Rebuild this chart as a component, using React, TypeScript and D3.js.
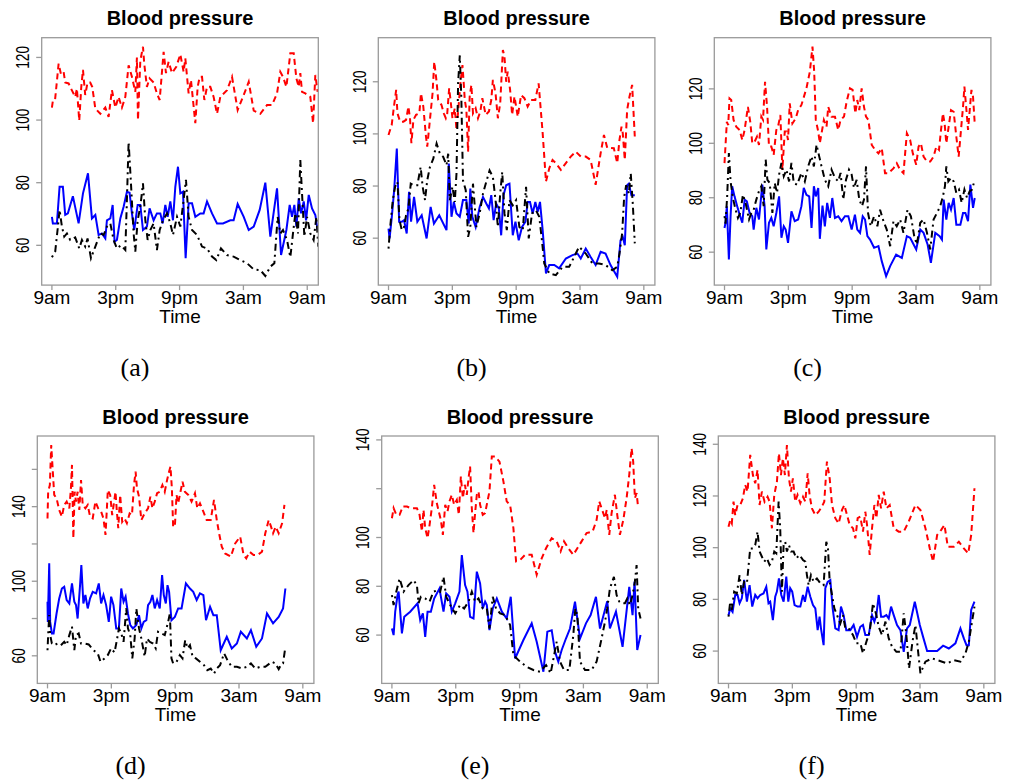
import React, { useEffect, useRef } from 'react';
import * as d3 from 'd3';

// hours since 9am
const hourTicks = [0, 6, 12, 18, 24];
const hourLabels = ['9am', '3pm', '9pm', '3am', '9am'];
const xLimits = [-0.96, 25.04];

// ---- panel (a) ----
const sysA = [[0,104],[0.1,106.4],[0.3,106.6],[0.63,118],[0.85,114.7],[1.1,115.4],[1.25,112],[1.57,111.7],[1.88,109.5],[2.19,107.4],[2.35,110],[2.57,99.8],[2.76,110.6],[2.92,116],[3.13,108],[3.35,112],[3.6,112],[3.79,110.6],[4.08,103.7],[4.55,102],[5.02,104],[5.33,101],[5.64,109.6],[5.96,104],[6.27,107.4],[6.58,104],[6.9,107.4],[7.21,117.5],[7.52,113.8],[7.84,109],[7.99,120],[8.09,100],[8.31,119],[8.56,123.4],[8.68,118],[8.93,110.6],[9.18,113.3],[9.56,112],[9.87,108.5],[10.13,106.4],[10.5,121.8],[10.72,115],[10.97,118.6],[11.29,115],[11.69,117],[12.07,121],[12.38,115.4],[12.54,119.7],[12.85,108.5],[13.07,112.8],[13.48,99],[13.7,110.6],[13.89,113.8],[14.11,113.8],[14.33,106.4],[14.58,110.6],[14.89,110.6],[15.2,107.4],[15.52,102],[15.83,107.4],[16.46,109.5],[16.93,113.8],[17.46,103.2],[18.03,108],[18.5,112.2],[18.97,103],[19.59,102],[20.22,104.8],[20.69,104.8],[21.16,108.5],[21.47,115.4],[21.72,113.8],[22.04,110.6],[22.41,121.3],[22.73,121.3],[22.98,113.3],[23.2,110.6],[23.35,115],[23.51,109],[23.82,108.5],[24.29,107.4],[24.55,99],[24.76,114.4],[24.98,109]];
const diaA = [[0,69.1],[0.09,67],[0.47,67],[0.72,78.7],[1.03,78.7],[1.25,69.7],[1.5,70.2],[1.97,75.7],[2.51,67],[2.92,76.6],[3.39,83],[3.76,68.6],[4.08,69.7],[4.39,63.3],[4.7,63.8],[5.02,62.2],[5.17,68],[5.49,68.6],[5.71,72.9],[5.89,61.2],[6.11,61.7],[6.43,68.6],[6.74,72.3],[7.05,77.1],[7.3,76.8],[7.52,70.2],[7.74,64.9],[8.06,72.9],[8.31,72.9],[8.56,64.9],[8.93,66],[9.18,71.8],[9.56,68],[9.87,70.2],[10.19,70.2],[10.41,67],[10.66,72.9],[10.88,69.1],[11.13,74],[11.38,68],[11.6,78.7],[11.85,85.1],[12.07,76.6],[12.32,77.1],[12.57,55.9],[12.85,73.4],[13.17,73.4],[13.48,69.1],[13.95,70.2],[14.26,70.2],[14.58,74],[15.05,70.2],[15.52,67],[16.08,67],[16.77,68],[17.08,68],[17.46,73.2],[18.03,69.1],[18.5,64.9],[18.97,66],[19.53,71.3],[20.06,80],[20.53,62.8],[21.16,78.2],[21.54,56.9],[22.04,64.9],[22.35,72.9],[22.57,69.1],[22.79,72.9],[22.98,66],[23.2,75],[23.42,70.2],[23.67,74],[23.89,68],[24.14,76.1],[24.45,71.8],[24.76,69.7],[24.98,64.9]];
const hrA = [[0,56.2],[0.31,58],[0.53,64.9],[0.72,71.3],[0.94,66],[1.16,62.8],[1.41,63.8],[1.72,61.7],[2.19,62.5],[2.57,59],[2.82,61.7],[3.13,59.6],[3.35,62.2],[3.67,55.9],[4.08,59.6],[4.55,63.8],[4.86,63.3],[5.17,66],[5.49,67],[5.8,61.7],[6.11,59],[6.49,60],[6.9,58.5],[7.05,74.5],[7.21,93],[7.43,79.8],[7.68,63.8],[7.84,58],[8.06,68],[8.31,72.3],[8.56,79.8],[8.78,68],[9.0,61.7],[9.25,64.9],[9.56,67],[9.87,58.5],[10.13,64.9],[10.44,68],[10.82,70.2],[11.13,67],[11.38,63.3],[11.76,69.1],[12.07,66],[12.38,74.5],[12.6,80.9],[12.85,69.1],[13.17,64.9],[13.64,63.3],[14.11,59.6],[14.58,59],[15.05,56.4],[15.45,55.3],[15.89,59],[16.46,56.9],[17.08,56.4],[17.71,55.3],[18.34,54.3],[18.97,52.3],[19.59,52.1],[20.06,50.2],[20.53,53.2],[20.91,54.3],[21.22,69.1],[21.47,63.8],[21.72,64.9],[22.1,61.7],[22.41,56.2],[22.66,63.8],[22.88,70.2],[23.13,63.8],[23.35,87.2],[23.51,76.6],[23.73,62.8],[23.98,69.1],[24.29,63.8],[24.6,61.7],[24.86,69.1],[25.04,59.6]];

// ---- panel (b) ----
const sysB = [[0,99.6],[0.1,100.9],[0.3,103.4],[0.47,109.2],[0.72,116.9],[0.84,107.9],[1.09,104.7],[1.4,104.7],[1.65,105.4],[1.87,110.5],[2.02,106],[2.15,96.4],[2.34,105.4],[2.59,107.3],[2.9,107.9],[3.05,115.6],[3.27,110.5],[3.52,99],[3.64,95.1],[3.83,102.8],[4.14,115.6],[4.3,127.7],[4.52,120],[4.67,113],[4.98,111.1],[5.2,107.9],[5.39,106],[5.51,107.3],[5.7,117.5],[5.83,113],[6.01,106],[6.23,109.8],[6.39,101.5],[6.57,109.8],[6.76,119.4],[6.95,126.4],[7.07,119.4],[7.17,113],[7.32,109.2],[7.48,93.2],[7.63,114.3],[7.79,118.8],[7.94,107.9],[8.19,109.8],[8.41,106],[8.63,108.6],[8.82,113.7],[9.13,107.3],[9.44,108.6],[9.66,113],[9.81,120.7],[10.06,115.6],[10.28,106],[10.5,111.7],[10.75,132.2],[10.9,129.6],[11.06,120],[11.21,123.9],[11.43,116.9],[11.62,107.3],[11.84,114.3],[12.15,106.6],[12.46,114.9],[12.77,113.7],[13.08,110.5],[13.4,113],[13.8,113],[14.11,119.4],[14.49,100.3],[14.8,81.7],[15.11,86.8],[15.42,90],[15.73,88.8],[16.2,86.2],[16.67,88.8],[17.13,91.3],[17.6,93.2],[18.07,91.3],[18.54,91.3],[19.0,90],[19.47,80.5],[19.94,92.6],[20.25,99.6],[20.56,94.6],[20.87,94.6],[21.18,94.5],[21.5,88.8],[21.71,97.7],[21.9,102.8],[22.02,100.3],[22.21,90],[22.43,109.2],[22.65,114.3],[22.9,118.8],[23.15,99]];
const diaB = [[0,63.7],[0.1,59.9],[0.31,68.2],[0.53,78.4],[0.78,94.4],[1.0,66.3],[1.25,66.3],[1.46,66.9],[1.71,61.8],[1.93,77.8],[2.12,66.3],[2.4,75.8],[2.71,66.3],[3.12,68.8],[3.58,59.9],[3.96,72],[4.27,65.6],[4.77,68.8],[5.45,63.1],[5.67,88.6],[5.92,68.2],[6.14,73.9],[6.39,69.5],[6.7,68.2],[7.0,74.6],[7.32,74.6],[7.54,65.6],[7.69,79],[7.88,68.2],[8.19,64.3],[8.57,72],[8.88,75.8],[9.19,73.3],[9.44,71.4],[9.66,76.5],[9.88,66.9],[10.12,73.3],[10.37,71.4],[10.59,61.1],[10.81,76.5],[11.06,80.3],[11.37,80.9],[11.68,61.1],[11.93,66.3],[12.24,59.2],[12.55,64.3],[12.87,66.3],[13.08,73.9],[13.3,73.9],[13.55,69.5],[13.8,73.9],[14.02,70.1],[14.24,73.9],[14.49,63.1],[14.8,46.5],[15.11,49.7],[15.58,49.7],[16.04,48.4],[16.67,52.2],[17.29,53.5],[17.76,54.1],[18.07,52.2],[18.54,56],[19.0,52.8],[19.47,49.7],[19.94,54.8],[20.4,54.1],[20.87,49.7],[21.5,45.2],[21.81,59.2],[22.02,60.5],[22.21,57.3],[22.43,80.3],[22.59,80.9],[22.83,76.5],[23.15,76.5]];
const hrB = [[0,56],[0.16,64.3],[0.4,74.6],[0.62,79.7],[0.84,81.6],[1.03,66.9],[1.25,63.1],[1.46,64.3],[1.65,68.8],[1.87,71.4],[2.09,80.9],[2.34,80.3],[2.71,80.3],[3.02,87.3],[3.21,79.7],[3.43,74.6],[3.64,82.2],[3.89,87.3],[4.21,90.5],[4.52,96.3],[4.83,92.4],[5.14,91.2],[5.45,88],[5.61,92.4],[5.76,74.6],[6.01,79.7],[6.23,73.9],[6.39,84.8],[6.54,119.3],[6.7,130.1],[6.85,113],[7.0,82.2],[7.26,78.4],[7.48,60.5],[7.69,64.3],[7.94,80.9],[8.26,64.3],[8.57,69.5],[8.88,77.1],[9.19,81.6],[9.5,86],[9.81,83.5],[10.06,74.6],[10.28,64.3],[10.5,77.1],[10.69,85.4],[10.9,69.5],[11.12,63.1],[11.37,74.6],[11.68,72.6],[11.99,74.6],[12.3,64.3],[12.62,63.1],[12.93,79.7],[13.18,59.9],[13.49,69.5],[13.86,70.7],[14.17,68.2],[14.42,59.2],[14.64,50.3],[15.11,46.5],[15.73,45.8],[16.36,49],[16.98,49],[17.45,52.8],[17.91,56.7],[18.54,54.1],[19.16,50.3],[19.78,50.3],[20.4,49.7],[21.03,47.7],[21.5,49],[21.71,54.1],[21.96,61.8],[22.15,75.8],[22.34,80.3],[22.59,77.1],[22.77,84.8],[22.96,73.3],[23.15,58]];

// ---- panel (c) ----
const sysC = [[0,92.7],[0.06,96.9],[0.22,107.9],[0.35,106.7],[0.47,116.5],[0.63,115.9],[0.85,108.6],[1.1,106.1],[1.42,104.9],[1.67,101.2],[1.89,104.9],[2.2,113.4],[2.42,107.9],[2.61,100],[2.83,100.6],[3.05,102.4],[3.24,99.4],[3.46,109.8],[3.62,108.6],[3.81,122.6],[4.0,113.4],[4.18,98.8],[4.4,98.8],[4.62,95.7],[4.87,104.9],[5.03,106.1],[5.25,110.4],[5.44,90.2],[5.66,104.3],[5.82,104.3],[5.97,101.2],[6.13,114.7],[6.38,107.3],[6.7,109.2],[6.92,112.2],[7.23,114.1],[7.7,120.2],[8.02,126.3],[8.27,135.5],[8.43,126.3],[8.58,108.6],[8.81,104.3],[8.96,100],[9.15,104.3],[9.34,108.6],[9.59,106.1],[9.75,113.4],[10.06,109.8],[10.38,109.8],[10.69,104.9],[10.91,108.6],[11.23,109.8],[11.48,115.3],[11.79,120.2],[12.04,119.6],[12.3,111],[12.48,115.9],[12.67,112.2],[12.89,120.2],[13.11,113.4],[13.3,109.8],[13.52,108.6],[13.84,99.4],[14.15,97.6],[14.47,96.3],[14.78,98.2],[15.09,89],[15.41,89],[15.88,90.8],[16.19,92.7],[16.51,90.2],[16.82,89],[17.14,103.7],[17.45,101.2],[17.7,96.3],[18.02,92.1],[18.24,98.8],[18.46,100],[18.71,95.1],[19.03,93.3],[19.34,93.3],[19.65,95.1],[19.91,98.8],[20.16,97.6],[20.35,104.9],[20.53,111],[20.69,107.3],[20.85,100],[21.07,106.1],[21.29,112.2],[21.54,111.6],[21.79,102.4],[22.01,95.1],[22.23,104.9],[22.42,113.4],[22.55,120.8],[22.74,112.2],[22.89,104.9],[23.05,112.2],[23.21,119.6],[23.36,117.1],[23.52,107.3]];
const diaC = [[0,68.9],[0.09,70.8],[0.22,76.9],[0.41,57.3],[0.57,73.2],[0.72,84.2],[0.94,80.5],[1.19,76.9],[1.42,73.8],[1.67,70.8],[1.89,79.3],[2.1,78.7],[2.36,74.4],[2.61,73.2],[2.74,68.3],[2.99,76.3],[3.24,72],[3.55,84.8],[3.77,76.9],[3.93,61],[4.18,70.8],[4.4,72.6],[4.62,69.5],[4.87,74.4],[5.13,80.5],[5.35,65.3],[5.57,69.5],[5.75,68.3],[5.97,63.4],[6.29,75],[6.6,71.4],[6.92,72],[7.23,76.9],[7.45,83.6],[7.7,81.1],[7.96,80.5],[8.18,68.9],[8.4,84.2],[8.58,80.5],[8.81,83.6],[8.96,64.9],[9.21,77.1],[9.43,69.5],[9.65,78.1],[9.91,72.6],[10.13,79.9],[10.38,72.6],[10.69,73.2],[11.0,71.4],[11.32,73.2],[11.64,73.2],[11.95,68.3],[12.26,73.8],[12.48,68.3],[12.74,67.1],[12.99,73.2],[13.21,72],[13.43,65.9],[13.68,64.6],[14.06,61.6],[14.47,62.2],[14.78,56.7],[15.19,51.2],[15.57,54.9],[16.13,59.1],[16.67,57.9],[17.14,65.9],[17.45,65.3],[18.02,61],[18.4,68.3],[18.71,67.1],[19.09,62.8],[19.4,56.1],[19.81,67.1],[20.22,65.9],[20.44,64.6],[20.6,79.3],[20.85,72],[21.07,78.1],[21.29,75.6],[21.54,79.9],[21.79,70.1],[22.17,70.1],[22.42,74.4],[22.64,74.4],[22.89,71.4],[23.11,84.8],[23.36,76.3],[23.52,79.9]];
const hrC = [[0,73.2],[0.09,70.5],[0.25,80.5],[0.41,96.4],[0.57,86],[0.79,79.9],[1.04,75.6],[1.26,72.6],[1.48,74.4],[1.73,81.1],[1.98,78.1],[2.3,72],[2.52,74.4],[2.74,75.6],[2.99,79.3],[3.24,82.4],[3.46,84.2],[3.68,76.9],[3.87,94],[4.03,86.6],[4.25,85.4],[4.5,74.4],[4.72,85.4],[4.94,81.8],[5.13,88.5],[5.35,92.8],[5.57,87.9],[5.82,90.3],[6.07,86],[6.29,92.8],[6.51,85.4],[6.82,84.8],[7.23,89.1],[7.55,86],[7.86,91.5],[8.18,95.2],[8.4,91.5],[8.65,99.5],[8.9,95.2],[9.12,91.5],[9.43,86.6],[9.75,84.2],[10.06,90.3],[10.38,87.3],[10.69,86],[10.91,89.1],[11.16,79.3],[11.42,86.6],[11.7,90.3],[11.95,88.5],[12.17,83.6],[12.42,86.6],[12.67,79.3],[12.92,76.9],[13.11,79.3],[13.3,91.5],[13.49,74.4],[13.74,69.5],[14.06,73.2],[14.37,69.5],[14.62,75.6],[14.94,71.4],[15.25,68.3],[15.57,62.2],[15.88,71.4],[16.19,69.5],[16.51,72],[16.82,67.1],[17.2,75.6],[17.52,73.2],[17.83,65.9],[18.08,62.8],[18.4,70.8],[18.71,72],[19.03,67.1],[19.34,61],[19.65,72],[19.97,74.4],[20.28,76.9],[20.53,80.5],[20.72,84.2],[20.85,91.5],[21.04,86],[21.29,87.3],[21.54,86],[21.79,81.8],[22.04,83],[22.29,78.1],[22.55,83],[22.8,79.9],[23.05,82.4],[23.27,83],[23.52,86.6]];

// ---- panel (d) ----
const sysD = [[0,133.7],[0.06,148],[0.22,151.6],[0.35,173.1],[0.47,161.5],[0.63,146.3],[0.85,144.5],[1.1,138.2],[1.35,134.6],[1.57,140.9],[1.8,142.7],[2.05,139.1],[2.2,149.8],[2.3,162.4],[2.43,123],[2.55,148],[2.68,142.7],[2.83,148],[2.99,138.2],[3.15,154.3],[3.31,140.9],[3.56,139.1],[3.78,140.9],[4.0,134.6],[4.25,133.7],[4.5,142.7],[4.76,139.1],[5.04,137.3],[5.26,133.7],[5.45,124.8],[5.67,148.9],[5.89,146.3],[6.08,135.5],[6.24,141.8],[6.39,148],[6.52,137.3],[6.65,128.4],[6.83,146.3],[7.02,131.9],[7.24,133.7],[7.46,131.1],[7.72,136.4],[7.94,135.5],[8.13,151.6],[8.28,158.8],[8.41,149.8],[8.6,145.4],[8.82,132.8],[9.13,136.4],[9.45,139.1],[9.67,145.4],[9.86,139.1],[10.08,142.7],[10.3,147.2],[10.55,148],[10.8,151.6],[11.02,148],[11.24,154.3],[11.43,158.8],[11.56,161.5],[11.69,149.8],[11.81,129.3],[11.97,129.3],[12.13,146.3],[12.28,141.8],[12.5,148],[12.69,153.4],[12.91,148],[13.23,146.3],[13.54,142.7],[13.86,147.2],[14.08,139.1],[14.33,141.8],[14.65,137.3],[14.96,132.8],[15.34,132.8],[15.65,143.6],[15.91,132.8],[16.16,124.8],[16.38,118.5],[16.69,114.9],[17.23,113.2],[17.64,120.3],[18.11,123.9],[18.43,114.1],[18.68,112.3],[18.99,115.8],[19.37,114.1],[19.75,114.1],[20.16,115.8],[20.47,125.7],[20.79,132.8],[21.01,129.3],[21.2,125.7],[21.45,129.3],[21.73,125.7],[22.05,131.1],[22.27,140.9]];
const diaD = [[0,89],[0.03,78.2],[0.16,109.6],[0.25,78.2],[0.41,72],[0.57,72],[0.85,82.7],[1.1,90.8],[1.35,96.1],[1.57,97],[1.8,89.9],[2.05,88.1],[2.3,98.8],[2.52,89],[2.68,87.2],[2.83,80],[3.06,97.9],[3.18,108.7],[3.37,88.1],[3.56,92.6],[3.78,85.4],[4.0,90.8],[4.25,94.3],[4.57,93.5],[4.82,98.8],[5.04,88.1],[5.26,92.6],[5.51,87.2],[5.76,78.2],[5.98,91.7],[6.2,87.2],[6.46,74.7],[6.71,74.7],[6.93,96.1],[7.15,89],[7.34,91.7],[7.56,82.7],[7.78,76.5],[8.03,74.7],[8.35,76.5],[8.6,81.8],[8.82,74.7],[9.04,78.2],[9.29,79.1],[9.45,87.2],[9.67,89],[9.86,92.6],[10.08,85.4],[10.3,89.9],[10.55,85.4],[10.77,103.3],[10.93,92.6],[11.12,88.1],[11.28,97.9],[11.43,94.3],[11.65,79.1],[11.97,80.9],[12.28,85.4],[12.6,85.4],[13.01,98.8],[13.39,96.1],[13.7,94.3],[14.02,89.9],[14.33,93.5],[14.65,92.6],[14.9,79.1],[15.28,86.3],[15.59,81.8],[15.91,81.8],[16.28,63],[16.85,70.2],[17.32,63.9],[17.8,66.6],[18.17,72.9],[18.74,69.3],[19.12,73.8],[19.62,64.8],[20.16,69.3],[20.63,82.7],[21.2,77.4],[21.73,80.9],[22.14,85.4],[22.36,96.1]];
const hrD = [[0,63],[0.06,71.1],[0.16,81.8],[0.25,71.1],[0.41,66.6],[0.63,65.7],[0.94,66.6],[1.26,65.7],[1.57,67.5],[1.8,65.7],[2.05,71.1],[2.3,75.6],[2.52,63],[2.68,71.1],[2.93,72],[3.15,66.6],[3.46,66.6],[3.87,66.1],[4.31,63],[4.72,61.3],[4.98,56.8],[5.35,58.6],[5.67,60.4],[5.98,64],[6.3,61.8],[6.52,68.4],[6.71,74.7],[6.93,72],[7.15,67.5],[7.4,85.4],[7.56,74.7],[7.78,71.1],[7.97,58.6],[8.19,69.3],[8.35,85.4],[8.6,74.7],[8.82,69.3],[9.13,59.5],[9.35,69.3],[9.61,67.5],[9.92,66.6],[10.17,64],[10.39,72.9],[10.71,72],[11.02,71.1],[11.34,78.2],[11.5,82.7],[11.65,58.6],[11.81,55.9],[12.13,56.8],[12.44,60.4],[12.69,58.6],[12.94,68.4],[13.17,64],[13.39,65.7],[13.64,59.5],[13.95,58.6],[14.33,56.8],[14.71,55],[15.02,52.3],[15.34,53.2],[15.65,50.5],[15.91,53.2],[16.22,55],[16.6,61.3],[16.91,57.7],[17.32,54.1],[17.8,54.1],[18.27,53.2],[18.74,54.1],[19.12,55.9],[19.53,53.2],[20.0,54.1],[20.47,54.1],[21.1,56.8],[21.42,55.9],[21.73,52.8],[21.95,55.3],[22.14,55.9],[22.36,64.8]];

// ---- panel (e) ----
const sysE = [[0,107.9],[0.16,112],[0.41,109.3],[0.72,109.3],[1.03,112.7],[1.41,112.7],[1.78,112],[2.35,112],[2.6,109.3],[2.82,102.5],[2.97,111.3],[3.13,103.8],[3.35,99.7],[3.54,105.2],[3.75,112],[3.97,121.6],[4.22,114.1],[4.44,110],[4.6,107.2],[4.79,101.1],[5.01,113.4],[5.23,110.7],[5.41,114.8],[5.63,117.5],[5.85,113.4],[6.1,115.4],[6.29,109.3],[6.48,125],[6.67,116.1],[6.85,121.6],[7.04,117.5],[7.2,124.3],[7.35,129.1],[7.51,112],[7.67,101.8],[7.82,110],[7.98,117.5],[8.14,118.9],[8.29,113.4],[8.54,109.3],[8.76,110],[9.17,118.9],[9.39,133.2],[9.7,133.2],[10.11,131.1],[10.48,123],[10.79,114.8],[11.11,113.4],[11.42,103.8],[11.67,90.2],[12.05,90.8],[12.52,92.9],[13.14,92.9],[13.61,84.7],[14.08,91.5],[14.49,95.6],[15.02,99.7],[15.49,98.4],[15.86,94.3],[16.18,98.4],[16.58,95.6],[17.05,92.9],[17.43,95.6],[17.83,98.4],[18.3,101.8],[18.87,102.5],[19.24,107.2],[19.49,114.8],[19.71,112],[20.03,107.9],[20.19,111.3],[20.43,101.1],[20.65,110],[20.96,117.5],[21.18,109.3],[21.43,101.1],[21.75,107.2],[22.06,116.1],[22.31,125.7],[22.53,136.6],[22.68,131.1],[22.84,116.1],[23.0,118.2],[23.15,112]];
const diaE = [[0,62.7],[0.16,60],[0.31,69.6],[0.53,76.4],[0.63,77.8],[0.94,60.7],[1.16,67.5],[1.72,69.6],[2.41,73],[2.66,66.1],[2.91,68.9],[3.13,59.3],[3.35,69.6],[3.66,69.6],[3.97,75],[4.47,79.1],[4.85,69.6],[5.1,77.1],[5.41,75.7],[5.63,69.6],[5.95,73],[6.35,77.8],[6.57,92.8],[6.88,80.5],[7.1,77.8],[7.35,67.5],[7.67,66.8],[7.98,86],[8.29,81.2],[8.54,70.9],[8.76,73.7],[8.92,72.3],[9.17,62],[9.48,70.9],[9.86,75],[10.33,69.6],[10.79,66.8],[11.17,75.7],[11.58,50.4],[12.36,58],[13.14,64.8],[13.61,57.3],[14.24,45],[14.61,61.4],[15.02,62],[15.33,53.2],[15.64,49.1],[15.96,53.9],[16.36,58.6],[16.74,62.7],[17.21,73.7],[17.68,58.6],[18.24,64.8],[18.68,68.2],[19.18,75.7],[19.56,62.7],[19.81,66.8],[20.24,73.9],[20.49,62.7],[21.06,69.6],[21.68,55.2],[22.31,79.8],[22.62,68.2],[22.81,81.9],[23.06,53.9],[23.37,60]];
const hrE = [[0,76.4],[0.16,72.3],[0.41,77.8],[0.72,83.2],[1.1,77.8],[1.56,80.5],[2.03,82.5],[2.35,80.5],[2.5,73],[2.72,75.7],[3.13,75],[3.54,73.7],[3.91,77.8],[4.29,78.4],[4.54,77.8],[4.85,83.9],[5.1,75.7],[5.48,72.3],[5.95,68.9],[6.41,72.3],[6.79,70.9],[7.2,73.7],[7.51,77.8],[7.82,73.7],[8.14,75],[8.54,70.9],[8.92,70.9],[9.17,62.7],[9.48,75.7],[9.79,70.9],[10.17,68.9],[10.64,68.2],[11.11,64.1],[11.42,51.8],[12.05,49.1],[12.67,47],[13.3,45.7],[13.92,45],[14.49,47.7],[14.92,44.3],[15.49,57.3],[15.8,49.1],[16.18,45.7],[16.68,45.7],[17.05,60],[17.24,70.9],[17.43,68.2],[17.68,49.1],[18.15,45.7],[18.77,45.7],[19.24,49.1],[19.71,58.6],[20.03,65.5],[20.24,70.9],[20.49,79.1],[20.87,83.9],[21.12,76.4],[21.37,73.7],[21.59,73],[21.9,73],[22.12,75],[22.37,72.3],[22.62,76.4],[22.84,81.9],[23.0,88.7],[23.15,70.9],[23.37,66.8]];

// ---- panel (f) ----
const sysF = [[0,108.1],[0.16,110.7],[0.31,109.4],[0.47,117.8],[0.63,112.6],[0.85,116.5],[1.1,116.5],[1.35,119.1],[1.57,124.3],[1.79,121.7],[2.04,135.9],[2.29,128.1],[2.51,124.9],[2.73,130.1],[2.92,116.5],[3.14,121.7],[3.39,117.8],[3.67,119.7],[3.86,117.8],[4.08,107.5],[4.3,120.4],[4.55,125.5],[4.74,136.5],[4.93,128.1],[5.11,134.6],[5.3,128.1],[5.49,139.7],[5.68,126.8],[5.87,121.7],[6.05,126.8],[6.27,117.8],[6.49,120.4],[6.75,117.2],[7.0,119.7],[7.22,117.8],[7.44,128.8],[7.62,120.4],[7.84,115.2],[8.16,112.6],[8.47,113.9],[8.78,115.9],[9.0,117.8],[9.25,133.3],[9.51,126.8],[9.73,116.5],[10.04,111.4],[10.35,109.4],[10.67,114.6],[10.89,116.5],[11.14,112.6],[11.39,108.8],[11.7,107.5],[11.92,103.6],[12.14,111.4],[12.39,112],[12.64,106.2],[12.86,113.9],[13.02,108.8],[13.27,97.2],[13.49,107.5],[13.71,116.5],[13.9,111.4],[14.12,120.4],[14.34,115.2],[14.59,121.7],[14.84,115.2],[15.15,116.5],[15.53,107.5],[16.0,106.2],[16.47,106.2],[16.94,110.1],[17.57,116.5],[18.04,114.6],[18.51,107.5],[18.92,99.7],[19.23,94.6],[19.61,104.9],[19.98,106.8],[20.3,108.8],[20.61,100.4],[21.18,100.4],[21.65,102.3],[22.12,99.7],[22.53,97.8],[22.81,104.9],[23.12,123]];
const diaF = [[0,73.9],[0.16,76.5],[0.38,75.2],[0.63,81.7],[0.85,81.7],[1.04,78.5],[1.25,80.4],[1.47,87.5],[1.73,79.1],[1.98,85.5],[2.23,77.2],[2.51,81.7],[2.73,80.4],[2.98,81.7],[3.29,82.3],[3.55,84.9],[3.76,78.5],[3.92,79.1],[4.17,72],[4.39,81],[4.55,83],[4.74,88.1],[4.96,81.7],[5.18,79.1],[5.43,88.8],[5.62,79.1],[5.8,84.3],[5.99,83],[6.21,77.8],[6.49,77.2],[6.75,77.2],[7.0,81.7],[7.18,79.1],[7.44,84.9],[7.69,81],[7.94,77.8],[8.16,76.5],[8.38,68.1],[8.56,73.3],[8.69,68.8],[8.94,62.3],[9.1,84.3],[9.32,86.8],[9.57,87.5],[9.79,76.5],[10.04,68.8],[10.35,68.1],[10.57,77.2],[10.82,73.9],[11.07,68.1],[11.45,68.1],[11.76,70.1],[12.08,65.5],[12.39,69.4],[12.64,70.1],[12.86,66.2],[13.18,66.2],[13.49,73.9],[13.71,71.4],[13.9,73.9],[14.12,81.7],[14.34,73.3],[14.59,73.3],[14.84,73.9],[15.06,72.6],[15.28,77.2],[15.53,73.9],[15.84,70.1],[16.16,68.1],[16.47,59.7],[16.78,68.8],[17.04,70.1],[17.51,79.1],[17.98,70.1],[18.29,65.5],[18.67,60],[19.61,60],[20.17,62.1],[20.71,61],[21.33,63],[21.8,68.8],[22.12,64.9],[22.37,62.3],[22.59,62.3],[22.81,75.9],[23.12,79.1]];
const hrF = [[0,73.3],[0.16,79.1],[0.31,75.9],[0.53,83],[0.78,82.3],[1.04,89.4],[1.25,81.7],[1.47,86.8],[1.73,86.2],[2.04,99.7],[2.29,99.7],[2.51,101],[2.73,106.2],[2.92,98.5],[3.14,96.5],[3.36,94.6],[3.61,95.9],[3.86,93.3],[4.08,94.6],[4.3,98.5],[4.49,97.8],[4.71,117.8],[4.86,107.5],[5.02,83],[5.18,101],[5.33,102.3],[5.49,98.5],[5.68,101],[5.87,98.5],[6.12,98.5],[6.37,95.9],[6.68,97.2],[7.0,95.2],[7.22,94.6],[7.37,89.4],[7.53,85.5],[7.75,89.4],[8.0,86.8],[8.31,88.1],[8.63,86.2],[8.94,85.5],[9.19,102.3],[9.35,99.7],[9.51,86.8],[9.73,81.7],[9.95,76.5],[10.2,73.9],[10.51,70.7],[10.76,73.9],[10.98,68.8],[11.29,68.8],[11.7,66.2],[12.02,63],[12.39,63],[12.64,59.1],[12.96,63.6],[13.27,67.5],[13.58,78.5],[13.9,73.9],[14.12,69.4],[14.43,66.2],[14.75,71.4],[15.06,64.9],[15.37,61.7],[15.78,59.7],[16.16,59.7],[16.47,74.6],[16.72,66.2],[16.97,53.3],[17.29,63.6],[17.57,70.1],[17.79,61],[18.04,51.4],[18.51,55.9],[19.14,57.2],[19.61,56.5],[20.08,55.9],[20.55,55.2],[21.18,56.5],[21.8,55.9],[22.27,59.1],[22.59,63.6],[22.84,70.1],[23.12,77.2]];

// per-panel y axis ticks / labels
const ticksStd = [60, 80, 100, 120];
const ticksD = [60, 80, 100, 120, 140, 160];
const labelsD = ['60', '', '100', '', '140', ''];
const ticksEF = [60, 80, 100, 120, 140];
const labelsE = ['60', '80', '100', '', '140'];
const labelsF = ['60', '80', '100', '120', '140'];

const panels = [
  { tag: '(a)', sys: sysA, dia: diaA, hr: hrA, yLim: [47.3, 126.3], ticks: ticksStd, labels: ticksStd.map(String), left: 41.7, top: 37.7 },
  { tag: '(b)', sys: sysB, dia: diaB, hr: hrB, yLim: [42, 136.9], ticks: ticksStd, labels: ticksStd.map(String), left: 378.3, top: 37.7 },
  { tag: '(c)', sys: sysC, dia: diaC, hr: hrC, yLim: [47.9, 138.8], ticks: ticksStd, labels: ticksStd.map(String), left: 714.3, top: 37.7 },
  { tag: '(d)', sys: sysD, dia: diaD, hr: hrD, yLim: [45.2, 177.9], ticks: ticksD, labels: labelsD, left: 37.3, top: 436 },
  { tag: '(e)', sys: sysE, dia: diaE, hr: hrE, yLim: [40.2, 141.6], ticks: ticksEF, labels: labelsE, left: 381.7, top: 436 },
  { tag: '(f)', sys: sysF, dia: diaF, hr: hrF, yLim: [47.5, 143.2], ticks: ticksEF, labels: labelsF, left: 718.3, top: 436 },
];

const W = 1009;
const H = 783;
const boxW = 276.6;
const boxH = 247.4;
const sans = 'Liberation Sans, Arial, Helvetica, sans-serif';

const BloodPressurePanels = () => {
  const ref = useRef<SVGSVGElement | null>(null);

  useEffect(() => {
    const svg = d3.select(ref.current);
    svg.selectAll('*').remove();

    panels.forEach((p, i) => {
      const x = d3.scaleLinear().domain(xLimits).range([p.left, p.left + boxW]);
      const y = d3.scaleLinear().domain(p.yLim).range([p.top + boxH, p.top]);
      const g = svg.append('g');

      const clipId = `clip-${i}`;
      g.append('clipPath').attr('id', clipId)
        .append('rect')
        .attr('x', p.left).attr('y', p.top)
        .attr('width', boxW).attr('height', boxH);

      const line = d3.line<number[]>().x(d => x(d[0])).y(d => y(d[1]));
      const lines = g.append('g').attr('clip-path', `url(#${clipId})`).attr('fill', 'none');

      lines.append('path').datum(p.sys)
        .attr('d', line).attr('stroke', '#ff0000').attr('stroke-width', 2)
        .attr('stroke-dasharray', '6,4');
      lines.append('path').datum(p.dia)
        .attr('d', line).attr('stroke', '#0000ff').attr('stroke-width', 2);
      lines.append('path').datum(p.hr)
        .attr('d', line).attr('stroke', '#000000').attr('stroke-width', 2)
        .attr('stroke-dasharray', '2,4,7,4');

      // frame
      g.append('rect')
        .attr('x', p.left).attr('y', p.top)
        .attr('width', boxW).attr('height', boxH)
        .attr('fill', 'none').attr('stroke', '#9a9a9a').attr('stroke-width', 1.3);

      // x axis
      const bottom = p.top + boxH;
      g.selectAll('.xt').data(hourTicks).join('line')
        .attr('x1', d => x(d)).attr('x2', d => x(d))
        .attr('y1', bottom).attr('y2', bottom + 5)
        .attr('stroke', '#9a9a9a').attr('stroke-width', 1.3);
      g.selectAll('.xl').data(hourTicks).join('text')
        .attr('x', d => x(d)).attr('y', bottom + 19)
        .attr('text-anchor', 'middle')
        .attr('font-family', sans).attr('font-size', 19)
        .text((d, j) => hourLabels[j]);

      // y axis
      g.selectAll('.yt').data(p.ticks).join('line')
        .attr('x1', p.left).attr('x2', p.left - 5.5)
        .attr('y1', d => y(d)).attr('y2', d => y(d))
        .attr('stroke', '#9a9a9a').attr('stroke-width', 1.3);
      g.selectAll('.yl').data(p.ticks.filter((d, j) => p.labels[j] !== '')).join('text')
        .attr('transform', d => `translate(${p.left - 12.4},${y(d)}) rotate(-90)`)
        .attr('text-anchor', 'middle')
        .attr('font-family', sans).attr('font-size', 17.5)
        .attr('textLength', d => String(d).length * 7.6)
        .attr('lengthAdjust', 'spacingAndGlyphs')
        .text(d => String(d));

      const cx = p.left + boxW / 2;
      g.append('text')
        .attr('x', cx).attr('y', p.top - 12.5)
        .attr('text-anchor', 'middle')
        .attr('font-family', sans).attr('font-size', 20).attr('font-weight', 'bold')
        .text('Blood pressure');
      g.append('text')
        .attr('x', cx).attr('y', bottom + 37.5)
        .attr('text-anchor', 'middle')
        .attr('font-family', sans).attr('font-size', 19)
        .text('Time');
      g.append('text')
        .attr('x', cx - 45).attr('y', bottom + 91)
        .attr('text-anchor', 'middle')
        .attr('font-family', 'Liberation Serif, Times New Roman, serif').attr('font-size', 26)
        .text(p.tag);
    });
  }, []);

  return (
    <div style={{ position: 'absolute', left: 0, top: 0 }}>
      <svg ref={ref} width={W} height={H} style={{ display: 'block', background: '#fff' }} />
    </div>
  );
};

export default function App() {
  return <BloodPressurePanels />;
}
